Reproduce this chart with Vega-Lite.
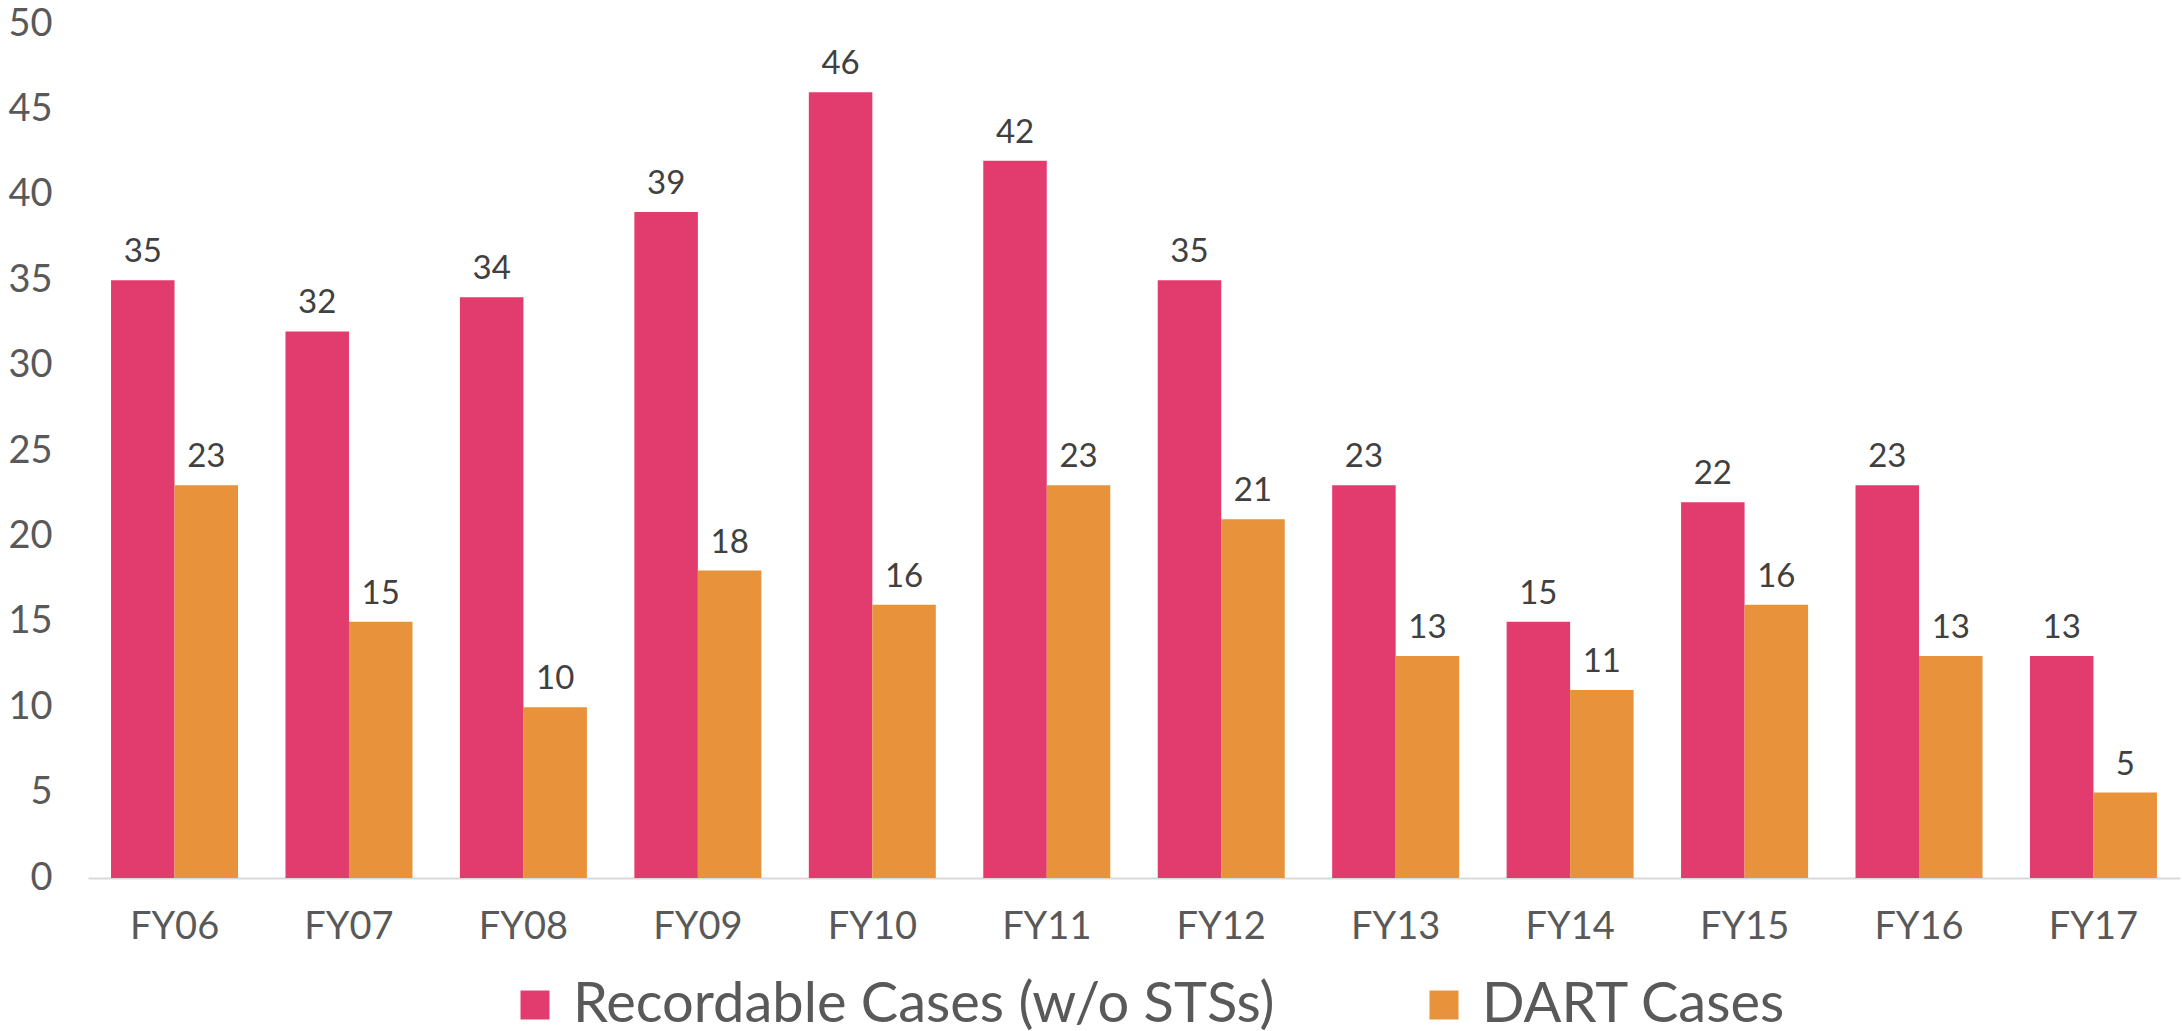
{
  "$schema": "https://vega.github.io/schema/vega-lite/v6.json",
  "width": 2092,
  "height": 854,
  "autosize": {"type": "none"},
  "padding": {"left": 88, "top": 24, "right": 2, "bottom": 153},
  "background": "white",
  "config": {
    "view": {"stroke": null},
    "font": "Lato",
    "axis": {"grid": false, "ticks": false, "tickSize": 0, "title": null, "labelFont": "Lato", "labelColor": "#595959"},
    "legend": {"labelFont": "Lato"}
  },
  "data": {
    "values": [
      {"fy": "FY06", "series": "Recordable Cases (w/o STSs)", "value": 35},
      {"fy": "FY06", "series": "DART Cases", "value": 23},
      {"fy": "FY07", "series": "Recordable Cases (w/o STSs)", "value": 32},
      {"fy": "FY07", "series": "DART Cases", "value": 15},
      {"fy": "FY08", "series": "Recordable Cases (w/o STSs)", "value": 34},
      {"fy": "FY08", "series": "DART Cases", "value": 10},
      {"fy": "FY09", "series": "Recordable Cases (w/o STSs)", "value": 39},
      {"fy": "FY09", "series": "DART Cases", "value": 18},
      {"fy": "FY10", "series": "Recordable Cases (w/o STSs)", "value": 46},
      {"fy": "FY10", "series": "DART Cases", "value": 16},
      {"fy": "FY11", "series": "Recordable Cases (w/o STSs)", "value": 42},
      {"fy": "FY11", "series": "DART Cases", "value": 23},
      {"fy": "FY12", "series": "Recordable Cases (w/o STSs)", "value": 35},
      {"fy": "FY12", "series": "DART Cases", "value": 21},
      {"fy": "FY13", "series": "Recordable Cases (w/o STSs)", "value": 23},
      {"fy": "FY13", "series": "DART Cases", "value": 13},
      {"fy": "FY14", "series": "Recordable Cases (w/o STSs)", "value": 15},
      {"fy": "FY14", "series": "DART Cases", "value": 11},
      {"fy": "FY15", "series": "Recordable Cases (w/o STSs)", "value": 22},
      {"fy": "FY15", "series": "DART Cases", "value": 16},
      {"fy": "FY16", "series": "Recordable Cases (w/o STSs)", "value": 23},
      {"fy": "FY16", "series": "DART Cases", "value": 13},
      {"fy": "FY17", "series": "Recordable Cases (w/o STSs)", "value": 13},
      {"fy": "FY17", "series": "DART Cases", "value": 5}
    ]
  },
  "encoding": {
    "x": {
      "field": "fy", "type": "nominal",
      "scale": {"paddingInner": 0.272, "paddingOuter": 0.132},
      "axis": {"labelAngle": 0, "labelFontSize": 38, "labelPadding": 30, "domainColor": "#d9d9d9", "domainWidth": 2}
    },
    "xOffset": {
      "field": "series", "type": "nominal",
      "sort": ["Recordable Cases (w/o STSs)", "DART Cases"],
      "scale": {"paddingInner": 0, "paddingOuter": 0}
    },
    "y": {
      "field": "value", "type": "quantitative",
      "scale": {"domain": [0, 50], "nice": false},
      "axis": {"values": [0, 5, 10, 15, 20, 25, 30, 35, 40, 45, 50], "domain": false, "labelFontSize": 38, "labelPadding": 36}
    }
  },
  "layer": [
    {
      "mark": {"type": "bar"},
      "encoding": {
        "color": {
          "field": "series", "type": "nominal",
          "sort": ["Recordable Cases (w/o STSs)", "DART Cases"],
          "scale": {"domain": ["Recordable Cases (w/o STSs)", "DART Cases"], "range": ["#E23C6E", "#E8933B"]},
          "legend": {
            "title": null,
            "orient": "none",
            "direction": "horizontal",
            "padding": 0,
            "legendX": 419,
            "legendY": 953,
            "symbolType": "square",
            "symbolSize": 841,
            "symbolStrokeWidth": 0,
            "symbolOpacity": 1,
            "labelFontSize": 56,
            "labelColor": "#595959",
            "labelOffset": 10,
            "labelLimit": 1000,
            "columnPadding": 141
          }
        }
      }
    },
    {
      "mark": {"type": "text", "baseline": "alphabetic", "dy": -18, "fontSize": 33, "color": "#404040"},
      "encoding": {"text": {"field": "value", "type": "quantitative"}}
    }
  ]
}
